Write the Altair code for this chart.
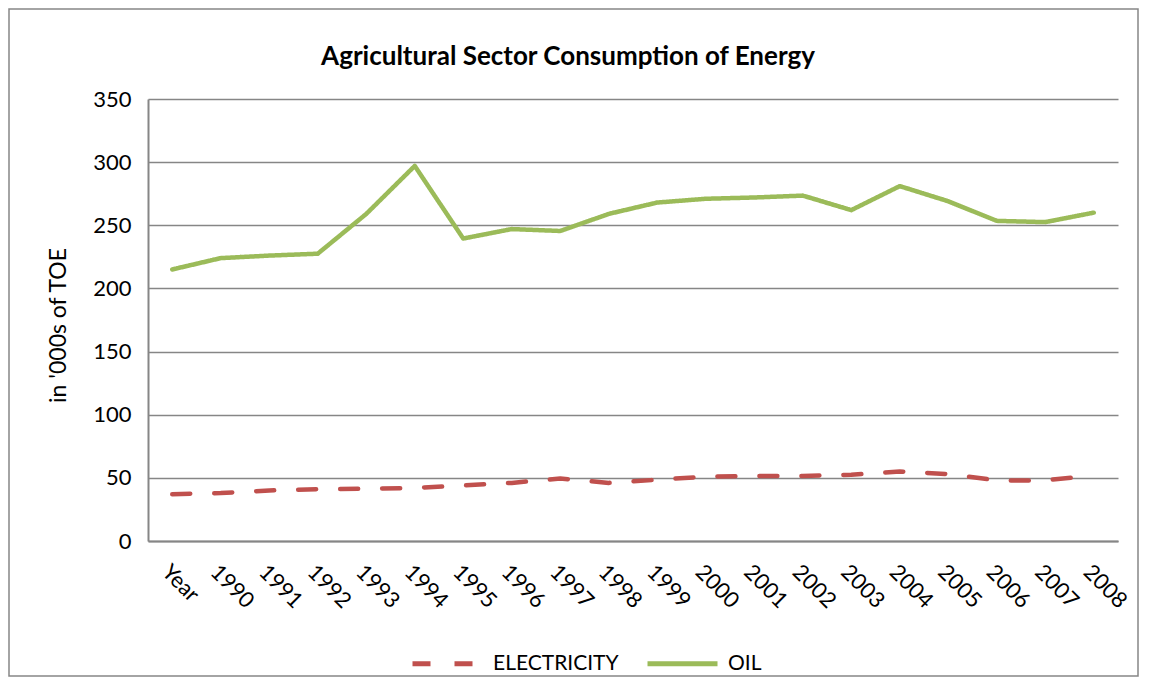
import altair as alt
import pandas as pd

categories = ["Year", "1990", "1991", "1992", "1993", "1994", "1995", "1996", "1997", "1998",
              "1999", "2000", "2001", "2002", "2003", "2004", "2005", "2006", "2007", "2008"]
electricity = [37, 38, 40, 41, 41.5, 42, 44, 46, 49.5, 46, 48.5, 51, 51.5, 51.5, 52.5, 55, 53, 48, 48, 52]
oil = [215, 224, 226, 227.5, 259, 297, 239.5, 247, 245.5, 259, 268, 271, 272, 273.5, 262, 281, 269, 253.5, 252.5, 260]
series_names = ["ELECTRICITY", "OIL"]
series_colors = ["#C0504D", "#9BBB59"]
y_ticks = [0, 50, 100, 150, 200, 250, 300, 350]

rows = []
for c, e, o in zip(categories, electricity, oil):
    rows.append({"cat": c, "series": "ELECTRICITY", "value": e})
    rows.append({"cat": c, "series": "OIL", "value": o})
df = pd.DataFrame(rows)

FONT = "Lato"
W, H = 970, 442

legend_opts = dict(title=None, orient="none", direction="horizontal",
                   legendX=262, legendY=527,
                   symbolType="stroke", symbolSize=4900,
                   symbolStrokeWidth=5, labelFontSize=21,
                   labelOffset=8, columnPadding=18)

lines = alt.Chart(df).mark_line(strokeWidth=4.5, strokeCap="round", strokeJoin="round").encode(
    x=alt.X("cat:N", sort=categories, title=None,
            scale=alt.Scale(padding=0.5),
            axis=alt.Axis(labelAngle=45, labelAlign="left", labelBaseline="top",
                          labelPadding=20, ticks=False, labelFontSize=22,
                          domainColor="#868686", domainWidth=2, grid=False)),
    y=alt.Y("value:Q", title="in '000s of TOE",
            scale=alt.Scale(domain=[0, 350], nice=False),
            axis=alt.Axis(values=y_ticks, ticks=False, labelPadding=17, labelFontSize=22,
                          titleFontSize=23, titleFontWeight="normal", titleX=-90,
                          titleY=226, titleBaseline="middle",
                          domainColor="#868686", domainWidth=2,
                          gridColor="#868686", gridWidth=1.5)),
    color=alt.Color("series:N", scale=alt.Scale(domain=series_names, range=series_colors),
                    legend=alt.Legend(**legend_opts)),
    strokeDash=alt.StrokeDash("series:N",
                              scale=alt.Scale(domain=series_names, range=[[18, 24], [1, 0]]),
                              legend=alt.Legend(**legend_opts)),
)

frame = alt.Chart(alt.Data(values=[{}])).mark_rect(
    fill="transparent", stroke="#868686", strokeWidth=1.5
).encode(
    x=alt.value(-139), x2=alt.value(990), y=alt.value(-90), y2=alt.value(577)
)

chart = alt.layer(frame, lines).properties(
    width=W, height=H,
    title=alt.TitleParams("Agricultural Sector Consumption of Energy", fontSize=26,
                          fontWeight="bold", font=FONT, color="#000000", anchor="middle",
                          frame="group", dx=-65, offset=-62),
    autosize=alt.AutoSizeParams(type="none"),
    padding={"left": 140, "top": 91, "right": 22, "bottom": 136},
).configure(
    font=FONT,
).configure_axis(
    labelFont=FONT, titleFont=FONT, labelColor="#000000", titleColor="#000000",
).configure_legend(
    labelFont=FONT, labelColor="#000000",
).configure_view(
    stroke=None,
)

chart.save("out.html", embed_options={"renderer": "svg", "actions": False})
